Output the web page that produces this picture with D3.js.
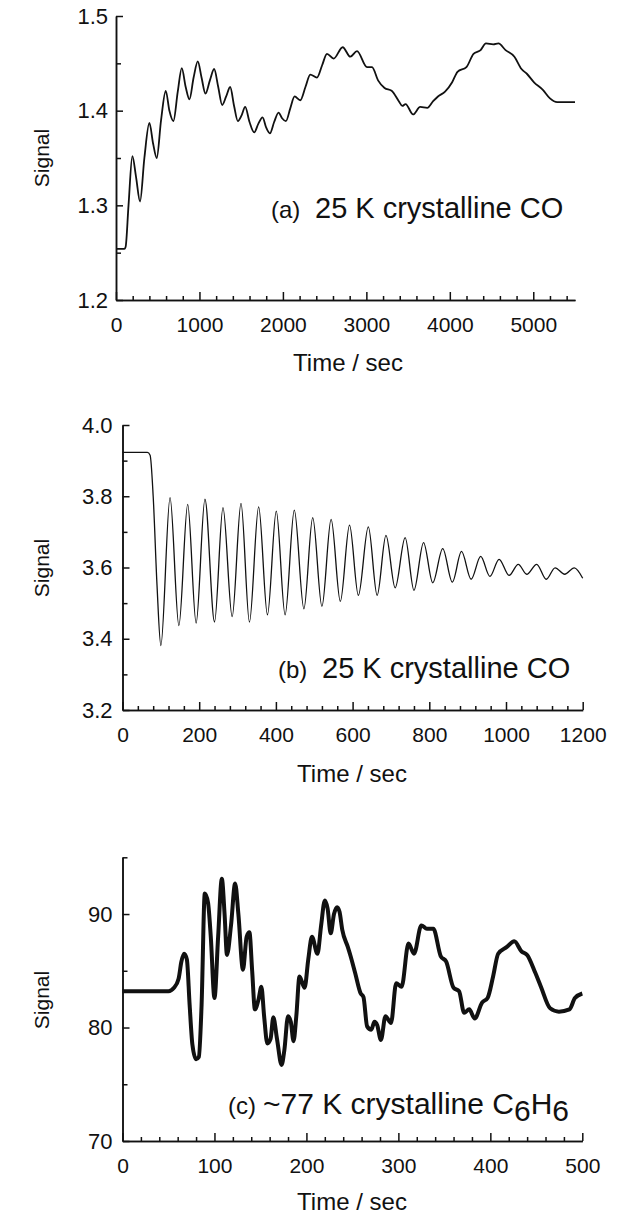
<!doctype html>
<html>
<head>
<meta charset="utf-8">
<title>Signal vs time</title>
<script src="https://cdn.jsdelivr.net/npm/d3@7"></script>
<style>
  body { margin: 0; padding: 0; background: #fff; }
  svg text { font-family: "Liberation Sans", Arial, sans-serif; fill: #111; }
  .axis path, .axis line { stroke: #111; stroke-width: 1.5; }
  .axis text { font-size: 21px; }
  .axis.yax text { font-size: 22px; }
  .trace { fill: none; stroke: #111; stroke-linejoin: round; }
</style>
</head>
<body>
<div id="container"></div>
<script>
// ---- data ----
var timeA = [0, 100, 115, 150, 196, 240, 288, 340, 400, 445, 488, 540, 596, 640, 688, 740, 788, 835, 880, 930, 980,
  1025, 1072, 1125, 1176, 1225, 1272, 1320, 1368, 1415, 1460, 1505, 1548, 1600, 1656, 1705, 1756, 1800, 1844, 1895, 1948,
  1990, 2036, 2090, 2140, 2208, 2270, 2328, 2408, 2470, 2528, 2608, 2716, 2808, 2888, 3008, 3068, 3140, 3218, 3303, 3389,
  3431, 3470, 3560, 3645, 3730, 3800, 3858, 3943, 4028, 4092, 4199, 4284, 4369, 4433, 4520, 4582, 4668, 4774, 4859, 4923,
  5009, 5115, 5200, 5286, 5400, 5500];
var signalA = [1.254, 1.254, 1.256, 1.30, 1.352, 1.33, 1.304, 1.35, 1.387, 1.365, 1.350, 1.39, 1.421, 1.40, 1.389, 1.42, 1.445, 1.425, 1.412, 1.435, 1.452,
  1.435, 1.418, 1.432, 1.444, 1.425, 1.406, 1.415, 1.425, 1.405, 1.389, 1.395, 1.404, 1.388, 1.377, 1.386, 1.393, 1.382, 1.376, 1.388, 1.398,
  1.392, 1.389, 1.403, 1.415, 1.411, 1.425, 1.438, 1.435, 1.448, 1.460, 1.455, 1.467, 1.457, 1.463, 1.446, 1.446, 1.432, 1.424, 1.421, 1.410,
  1.405, 1.407, 1.396, 1.404, 1.403, 1.410, 1.415, 1.420, 1.430, 1.441, 1.446, 1.460, 1.464, 1.471, 1.470, 1.471, 1.464, 1.457, 1.444, 1.439,
  1.430, 1.422, 1.413, 1.409, 1.409, 1.409];

var timeB = [0, 65, 72, 80, 90, 100, 124, 147, 170, 192, 215, 240, 262, 286, 309, 331, 355, 378, 401, 424, 448, 473,
  496, 520, 544, 568, 592, 615, 641, 664, 687, 711, 737, 760, 785, 809, 835, 860, 884, 909, 934, 958, 982, 1008,
  1032, 1054, 1080, 1105, 1128, 1153, 1178, 1200];
var signalB = [3.923, 3.923, 3.915, 3.80, 3.55, 3.381, 3.796, 3.437, 3.777, 3.444, 3.792, 3.447, 3.768, 3.462, 3.780, 3.447, 3.770, 3.467, 3.758, 3.467, 3.761, 3.484,
  3.740, 3.491, 3.735, 3.505, 3.719, 3.522, 3.714, 3.522, 3.690, 3.543, 3.684, 3.536, 3.670, 3.557, 3.653, 3.559, 3.645, 3.567, 3.631, 3.575, 3.623, 3.578,
  3.609, 3.581, 3.609, 3.567, 3.599, 3.581, 3.599, 3.570];

var timeC = [0, 50, 56, 61, 64, 67, 70, 73, 76, 80, 83, 86, 89.5, 93, 96, 100, 104, 108, 111, 113.6, 118, 122.5, 126, 131,
  135, 138, 141, 144, 148, 151, 154, 157.5, 161, 164, 168, 173, 176, 180, 183, 186, 189, 192.5, 198, 202, 206, 212,
  216, 220, 223, 226.4, 230, 233.4, 236, 239, 245, 248, 253, 259, 262, 266, 270.5, 274, 277, 281, 286, 292, 297.6,
  303.5, 311, 317, 325, 331, 338, 346, 352, 360, 366, 371.5, 377, 383, 391, 397, 403, 408.5, 418, 426, 434, 440,
  449, 455, 465, 474.6, 486, 492, 500];
var signalC = [83.2, 83.2, 83.5, 84.3, 85.8, 86.5, 86.0, 82.0, 78.5, 77.2, 77.4, 82, 91.8, 91.0, 88, 82.6, 88, 93.1, 90, 86.4, 89, 92.7, 90, 85.1,
  88, 88.4, 85, 81.6, 82.5, 83.6, 81, 78.6, 79, 80.9, 79, 76.7, 78, 81.0, 80.5, 78.8, 81, 84.5, 83.5, 86, 88.0, 86.5,
  89, 91.2, 90.5, 88.3, 90, 90.6, 90.2, 88.6, 87.1, 86.3, 84.8, 83.0, 82.7, 80.1, 79.8, 80.5, 80.2, 78.9, 81.0, 80.4, 83.9,
  83.6, 87.4, 86.5, 89.0, 88.7, 88.7, 86.3, 85.8, 83.5, 83.2, 81.3, 81.6, 80.8, 82.2, 82.6, 84.5, 86.5, 87.1, 87.6, 86.7, 86.4,
  84.8, 83.6, 81.7, 81.4, 81.6, 82.6, 83.0];

// ticks
var xMajorA = [0, 1000, 2000, 3000, 4000, 5000];
var xMinorA = d3.range(200, 5500, 200).filter(function(v) { return v % 1000 !== 0; });
var yMajorA = [1.2, 1.3, 1.4, 1.5];
var yMinorA = [1.25, 1.35, 1.45];

var xMajorB = [0, 200, 400, 600, 800, 1000, 1200];
var xMinorB = d3.range(40, 1200, 40).filter(function(v) { return v % 200 !== 0; });
var yMajorB = [3.2, 3.4, 3.6, 3.8, 4.0];
var yMinorB = [3.3, 3.5, 3.7, 3.9];

var xMajorC = [0, 100, 200, 300, 400, 500];
var xMinorC = d3.range(20, 500, 20).filter(function(v) { return v % 100 !== 0; });
var yMajorC = [70, 80, 90];
var yMinorC = [75, 85, 95];

var svg = d3.select("#container").append("svg")
    .attr("width", 622)
    .attr("height", 1218);

function panel(cfg) {
  var x = d3.scaleLinear().domain(cfg.xDomain).range([cfg.left, cfg.right]);
  var y = d3.scaleLinear().domain(cfg.yDomain).range([cfg.bottom, cfg.top]);
  var g = svg.append("g");

  // minor ticks first, then labelled major ticks
  g.append("g").attr("class", "axis")
    .attr("transform", "translate(0," + cfg.bottom + ")")
    .call(d3.axisBottom(x).tickValues(cfg.xMinor).tickSize(-4).tickSizeOuter(0).tickFormat(""));
  g.append("g").attr("class", "axis")
    .attr("transform", "translate(0," + cfg.bottom + ")")
    .call(d3.axisBottom(x).tickValues(cfg.xMajor).tickSize(-8).tickSizeOuter(0)
      .tickPadding(17).tickFormat(d3.format("d")))
    .call(function(a) { a.selectAll("text").attr("dy", "0.71em"); });

  g.append("g").attr("class", "axis yax")
    .attr("transform", "translate(" + cfg.left + ",0)")
    .call(d3.axisLeft(y).tickValues(cfg.yMinor).tickSize(-5).tickSizeOuter(0).tickFormat(""));
  g.append("g").attr("class", "axis yax")
    .attr("transform", "translate(" + cfg.left + ",0)")
    .call(d3.axisLeft(y).tickValues(cfg.yMajor).tickSize(-7).tickSizeOuter(0)
      .tickPadding(cfg.yPad).tickFormat(cfg.yFormat));

  var line = d3.line()
    .x(function(d) { return x(d[0]); })
    .y(function(d) { return y(d[1]); })
    .curve(d3.curveMonotoneX);
  g.append("path").attr("class", "trace")
    .datum(d3.zip(cfg.time, cfg.signal))
    .attr("stroke-width", cfg.stroke)
    .attr("d", line);

  g.append("text")
    .attr("x", cfg.titleX).attr("y", cfg.titleY)
    .attr("text-anchor", "middle")
    .style("font-size", "24px")
    .text("Time / sec");
  g.append("text")
    .attr("transform", "translate(" + cfg.sigX + "," + cfg.sigY + ") rotate(-90)")
    .attr("text-anchor", "middle")
    .style("font-size", "21px")
    .text("Signal");

  g.append("text")
    .attr("x", cfg.tagX).attr("y", cfg.noteY)
    .style("font-size", cfg.tagSize + "px")
    .text(cfg.tag);
  var note = g.append("text")
    .attr("x", cfg.noteX).attr("y", cfg.noteY)
    .style("font-size", cfg.noteSize + "px");
  cfg.note.forEach(function(p) {
    note.append("tspan")
      .attr("dy", p.sub ? 7 : (p.after ? -7 : 0))
      .text(p.t);
  });
}

panel({
  time: timeA, signal: signalA, xDomain: [0, 5500], yDomain: [1.2, 1.5],
  left: 116, right: 575, top: 16, bottom: 300,
  xMajor: xMajorA, xMinor: xMinorA, yMajor: yMajorA, yMinor: yMinorA,
  yFormat: d3.format(".1f"), yPad: 8, stroke: 1.8,
  titleX: 348, titleY: 371, sigX: 49, sigY: 158,
  tag: "(a)", tagX: 271, tagSize: 24, noteX: 315, noteY: 218, noteSize: 29,
  note: [{t: "25 K crystalline CO"}]
});

panel({
  time: timeB, signal: signalB, xDomain: [0, 1200], yDomain: [3.2, 4.0],
  left: 122.5, right: 582.7, top: 425, bottom: 710,
  xMajor: xMajorB, xMinor: xMinorB, yMajor: yMajorB, yMinor: yMinorB,
  yFormat: d3.format(".1f"), yPad: 10, stroke: 1.3,
  titleX: 352, titleY: 782, sigX: 49, sigY: 568,
  tag: "(b)", tagX: 278, tagSize: 24, noteX: 322, noteY: 678, noteSize: 29,
  note: [{t: "25 K crystalline CO"}]
});

panel({
  time: timeC, signal: signalC, xDomain: [0, 500], yDomain: [70, 95],
  left: 122.5, right: 582.3, top: 857.3, bottom: 1141,
  xMajor: xMajorC, xMinor: xMinorC, yMajor: yMajorC, yMinor: yMinorC,
  yFormat: d3.format("d"), yPad: 10, stroke: 4,
  titleX: 352, titleY: 1210, sigX: 49, sigY: 1000,
  tag: "(c)", tagX: 228, tagSize: 24, noteX: 263, noteY: 1114, noteSize: 30,
  note: [{t: "~77 K crystalline C"}, {t: "6", sub: true}, {t: "H", after: true}, {t: "6", sub: true}]
});
</script>
</body>
</html>
